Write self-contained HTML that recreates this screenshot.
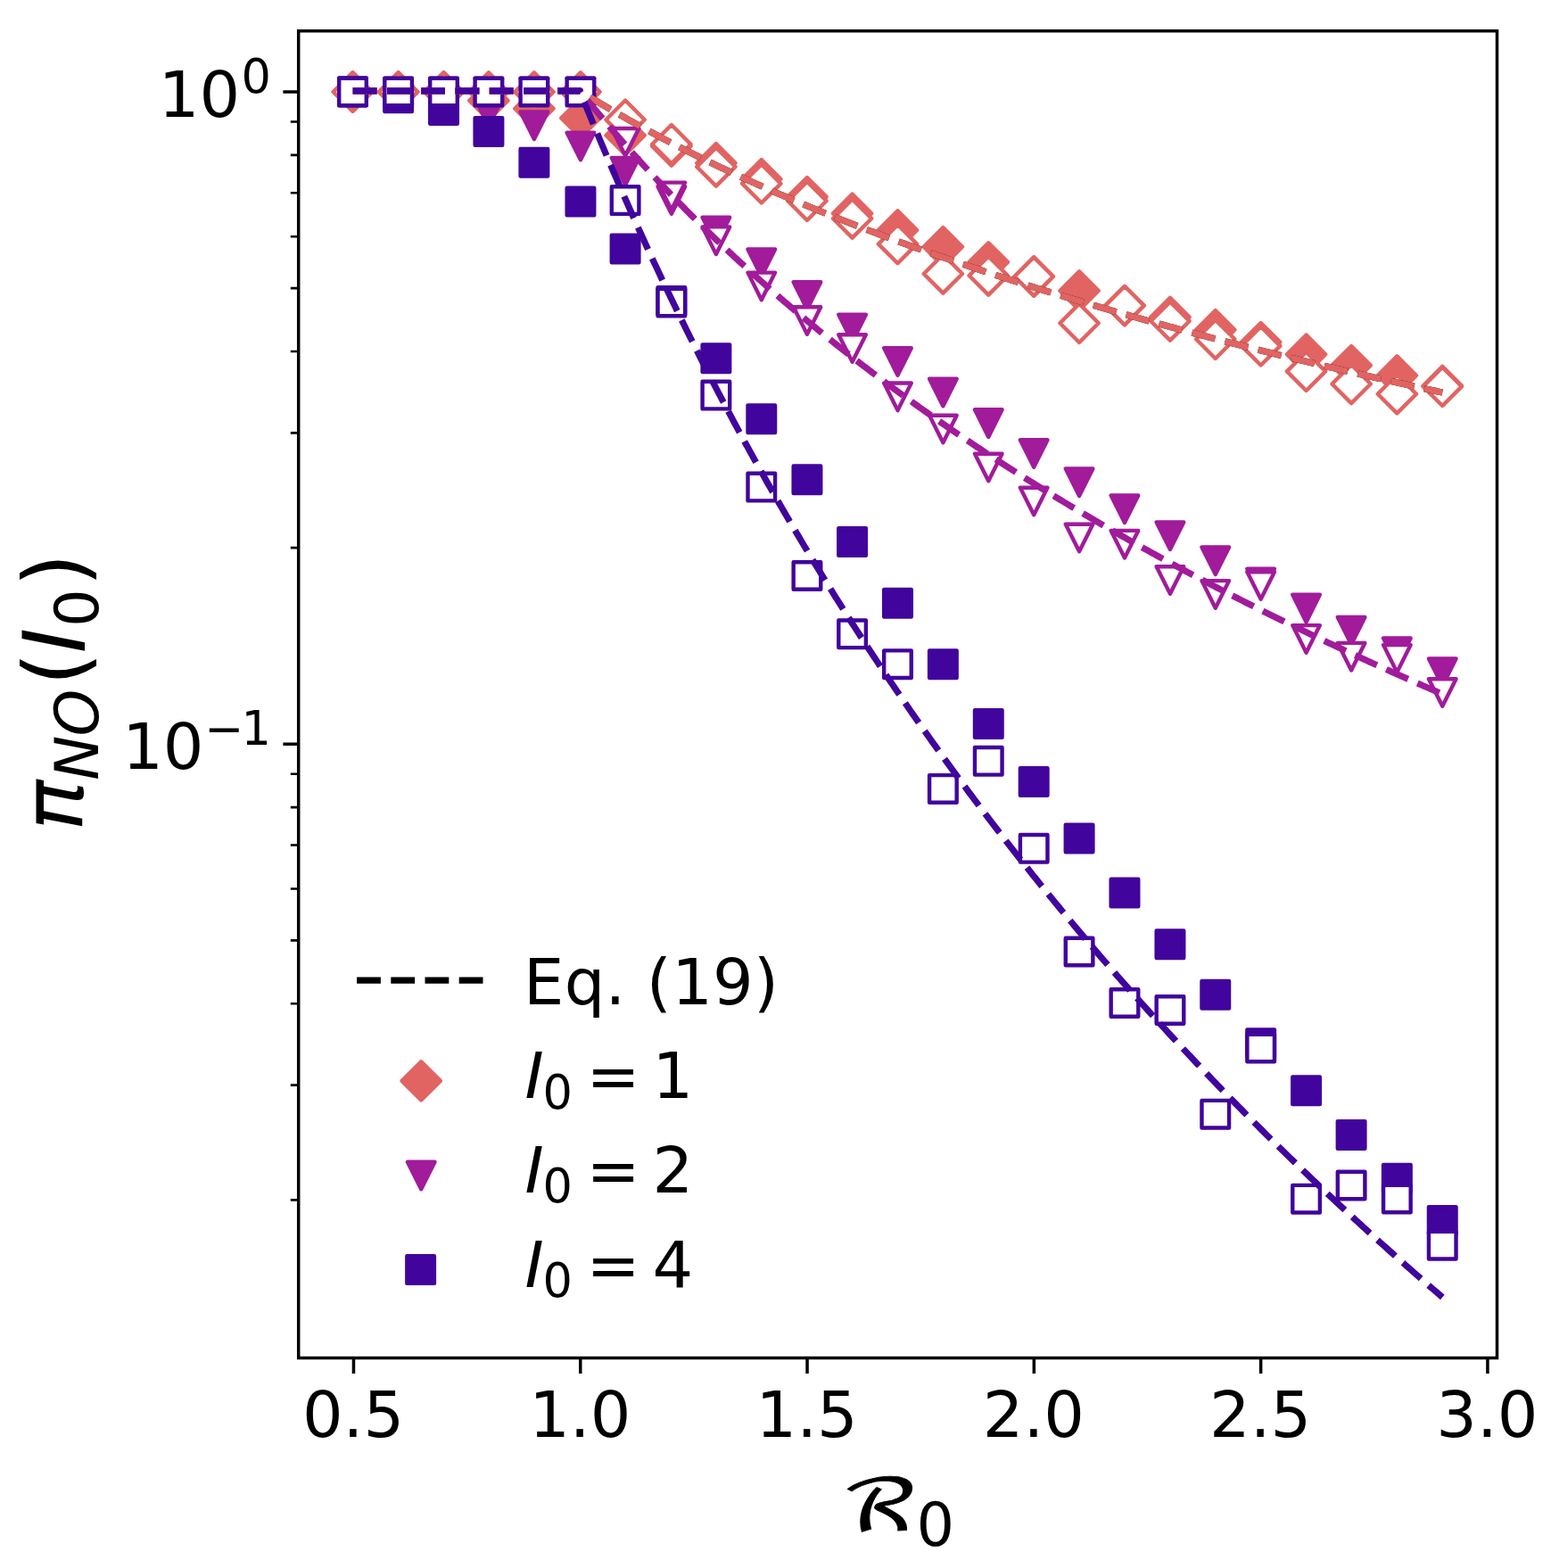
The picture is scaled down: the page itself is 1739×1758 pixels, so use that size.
<!DOCTYPE html>
<html><head><meta charset="utf-8"><style>html,body{margin:0;padding:0;background:#fff;overflow:hidden}svg{display:block}</style></head><body>
<svg width="1739" height="1758" viewBox="0 0 1739 1758"><rect width="1739" height="1758" fill="#fff"/>
<clipPath id="ax"><rect x="335" y="34.7" width="1343.5" height="1487.8"/></clipPath>
<g clip-path="url(#ax)">
<path d="M395.5 81.36L417.14 103L395.5 124.64L373.86 103ZM446.61 81.36L468.24 103L446.61 124.64L424.97 103ZM497.5 81.36L519.14 103L497.5 124.64L475.87 103ZM547.9 91.16L569.54 112.8L547.9 134.44L526.26 112.8ZM598.9 100.06L620.54 121.7L598.9 143.34L577.26 121.7ZM650.95 110.76L672.59 132.4L650.95 154.04L629.31 132.4ZM701.09 130.16L722.73 151.8L701.09 173.44L679.46 151.8ZM752.85 142.36L774.49 164L752.85 185.64L731.21 164ZM802.89 161.06L824.52 182.7L802.89 204.34L781.25 182.7ZM853.78 179.16L875.42 200.8L853.78 222.44L832.15 200.8ZM904.95 198.96L926.59 220.6L904.95 242.24L883.31 220.6ZM955.58 217.56L977.22 239.2L955.58 260.84L933.94 239.2ZM1006.48 236.36L1028.11 258L1006.48 279.64L984.84 258ZM1057.38 255.06L1079.01 276.7L1057.38 298.34L1035.74 276.7ZM1108.27 272.26L1129.91 293.9L1108.27 315.54L1086.64 293.9ZM1159.17 288.36L1180.81 310L1159.17 331.64L1137.53 310ZM1210.07 304.36L1231.7 326L1210.07 347.64L1188.43 326ZM1260.97 320.96L1282.6 342.6L1260.97 364.24L1239.33 342.6ZM1311.95 333.86L1333.59 355.5L1311.95 377.14L1290.31 355.5ZM1362.76 348.06L1384.4 369.7L1362.76 391.34L1341.12 369.7ZM1413.66 361.96L1435.29 383.6L1413.66 405.24L1392.02 383.6ZM1464.56 375.56L1486.19 397.2L1464.56 418.84L1442.92 397.2ZM1515.1 387.96L1536.74 409.6L1515.1 431.24L1493.46 409.6ZM1566.35 399.36L1587.99 421L1566.35 442.64L1544.71 421ZM1617.25 410.86L1638.88 432.5L1617.25 454.14L1595.61 432.5Z" fill="#e16462" stroke="#e16462" stroke-width="4.4" stroke-linejoin="round"/>
<path d="M395.5 81.36L417.14 103L395.5 124.64L373.86 103ZM446.61 81.36L468.24 103L446.61 124.64L424.97 103ZM497.5 81.36L519.14 103L497.5 124.64L475.87 103ZM547.9 81.36L569.54 103L547.9 124.64L526.26 103ZM598.9 81.36L620.54 103L598.9 124.64L577.26 103ZM650.95 81.36L672.59 103L650.95 124.64L629.31 103ZM701.09 112.56L722.73 134.2L701.09 155.84L679.46 134.2ZM752.85 140.06L774.49 161.7L752.85 183.34L731.21 161.7ZM802.89 165.36L824.52 187L802.89 208.64L781.25 187ZM853.78 184.26L875.42 205.9L853.78 227.54L832.15 205.9ZM904.95 203.66L926.59 225.3L904.95 246.94L883.31 225.3ZM955.58 223.36L977.22 245L955.58 266.64L933.94 245ZM1006.48 251.96L1028.11 273.6L1006.48 295.24L984.84 273.6ZM1057.38 285.36L1079.01 307L1057.38 328.64L1035.74 307ZM1108.27 287.36L1129.91 309L1108.27 330.64L1086.64 309ZM1159.17 288.36L1180.81 310L1159.17 331.64L1137.53 310ZM1210.07 340.66L1231.7 362.3L1210.07 383.94L1188.43 362.3ZM1260.97 320.96L1282.6 342.6L1260.97 364.24L1239.33 342.6ZM1311.95 338.36L1333.59 360L1311.95 381.64L1290.31 360ZM1362.76 358.66L1384.4 380.3L1362.76 401.94L1341.12 380.3ZM1413.66 366.26L1435.29 387.9L1413.66 409.54L1392.02 387.9ZM1464.56 394.76L1486.19 416.4L1464.56 438.04L1442.92 416.4ZM1515.1 408.86L1536.74 430.5L1515.1 452.14L1493.46 430.5ZM1566.35 420.06L1587.99 441.7L1566.35 463.34L1544.71 441.7ZM1617.25 411.76L1638.88 433.4L1617.25 455.04L1595.61 433.4Z" fill="#fff" stroke="#e16462" stroke-width="4.4" stroke-linejoin="round"/>
<path d="M380.2 87.7L410.8 87.7L395.5 118.3ZM431.31 90.7L461.91 90.7L446.61 121.3ZM482.2 99.7L512.8 99.7L497.5 130.3ZM532.6 110.7L563.2 110.7L547.9 141.3ZM583.6 125.5L614.2 125.5L598.9 156.1ZM635.65 148.7L666.25 148.7L650.95 179.3ZM685.79 176.9L716.39 176.9L701.09 207.5ZM737.55 209.2L768.15 209.2L752.85 239.8ZM787.59 243.7L818.19 243.7L802.89 274.3ZM838.49 279.4L869.08 279.4L853.78 310ZM889.65 316.2L920.25 316.2L904.95 346.8ZM940.28 352.7L970.88 352.7L955.58 383.3ZM991.18 390.2L1021.78 390.2L1006.48 420.8ZM1042.08 424.7L1072.67 424.7L1057.38 455.3ZM1092.97 459.3L1123.57 459.3L1108.27 489.9ZM1143.87 493.2L1174.47 493.2L1159.17 523.8ZM1194.77 525.5L1225.37 525.5L1210.07 556.1ZM1245.67 555.4L1276.27 555.4L1260.97 586ZM1296.65 585.4L1327.25 585.4L1311.95 616ZM1347.46 613.4L1378.06 613.4L1362.76 644ZM1398.36 637.8L1428.96 637.8L1413.66 668.4ZM1449.26 666.8L1479.86 666.8L1464.56 697.4ZM1499.8 692L1530.4 692L1515.1 722.6ZM1551.05 715.5L1581.65 715.5L1566.35 746.1ZM1601.95 738.4L1632.55 738.4L1617.25 769Z" fill="#a11b9b" stroke="#a11b9b" stroke-width="4.4" stroke-linejoin="round"/>
<path d="M380.2 87.7L410.8 87.7L395.5 118.3ZM431.31 87.7L461.91 87.7L446.61 118.3ZM482.2 87.7L512.8 87.7L497.5 118.3ZM532.6 87.7L563.2 87.7L547.9 118.3ZM583.6 87.7L614.2 87.7L598.9 118.3ZM635.65 87.7L666.25 87.7L650.95 118.3ZM685.79 144L716.39 144L701.09 174.6ZM737.55 204.6L768.15 204.6L752.85 235.2ZM787.59 254.4L818.19 254.4L802.89 285ZM838.49 305.6L869.08 305.6L853.78 336.2ZM889.65 344.2L920.25 344.2L904.95 374.8ZM940.28 375.2L970.88 375.2L955.58 405.8ZM991.18 429.5L1021.78 429.5L1006.48 460.1ZM1042.08 465.7L1072.67 465.7L1057.38 496.3ZM1092.97 508.7L1123.57 508.7L1108.27 539.3ZM1143.87 546.7L1174.47 546.7L1159.17 577.3ZM1194.77 587.7L1225.37 587.7L1210.07 618.3ZM1245.67 594.9L1276.27 594.9L1260.97 625.5ZM1296.65 635.2L1327.25 635.2L1311.95 665.8ZM1347.46 651.1L1378.06 651.1L1362.76 681.7ZM1398.36 641.2L1428.96 641.2L1413.66 671.8ZM1449.26 701.1L1479.86 701.1L1464.56 731.7ZM1499.8 720.9L1530.4 720.9L1515.1 751.5ZM1551.05 723.1L1581.65 723.1L1566.35 753.7ZM1601.95 761.2L1632.55 761.2L1617.25 791.8Z" fill="#fff" stroke="#a11b9b" stroke-width="4.4" stroke-linejoin="round"/>
<path d="M380.2 87.7H410.8V118.3H380.2ZM431.31 94.4H461.91V125H431.31ZM482.2 108.1H512.8V138.7H482.2ZM532.6 132.2H563.2V162.8H532.6ZM583.6 167H614.2V197.6H583.6ZM635.65 210.7H666.25V241.3H635.65ZM685.79 263.6H716.39V294.2H685.79ZM737.55 322.2H768.15V352.8H737.55ZM787.59 386.4H818.19V417H787.59ZM838.49 454.4H869.08V485H838.49ZM889.65 522.5H920.25V553.1H889.65ZM940.28 592.1H970.88V622.7H940.28ZM991.18 661H1021.78V691.6H991.18ZM1042.08 729.4H1072.67V760H1042.08ZM1092.97 796.2H1123.57V826.8H1092.97ZM1143.87 861.2H1174.47V891.8H1143.87ZM1194.77 924.7H1225.37V955.3H1194.77ZM1245.67 985.7H1276.27V1016.3H1245.67ZM1296.65 1043.5H1327.25V1074.1H1296.65ZM1347.46 1100H1378.06V1130.6H1347.46ZM1398.36 1154.4H1428.96V1185H1398.36ZM1449.26 1207.4H1479.86V1238H1449.26ZM1499.8 1257.1H1530.4V1287.7H1499.8ZM1551.05 1305.9H1581.65V1336.5H1551.05ZM1601.95 1353.1H1632.55V1383.7H1601.95Z" fill="#41049d" stroke="#41049d" stroke-width="4.4" stroke-linejoin="round"/>
<path d="M380.2 87.7H410.8V118.3H380.2ZM431.31 87.7H461.91V118.3H431.31ZM482.2 87.7H512.8V118.3H482.2ZM532.6 87.7H563.2V118.3H532.6ZM583.6 87.7H614.2V118.3H583.6ZM635.65 87.7H666.25V118.3H635.65ZM685.79 209.3H716.39V239.9H685.79ZM737.55 323.7H768.15V354.3H737.55ZM787.59 427.8H818.19V458.4H787.59ZM838.49 530.8H869.08V561.4H838.49ZM889.65 630.2H920.25V660.8H889.65ZM940.28 695.5H970.88V726.1H940.28ZM991.18 729.4H1021.78V760H991.18ZM1042.08 869.1H1072.67V899.7H1042.08ZM1092.97 838H1123.57V868.6H1092.97ZM1143.87 936H1174.47V966.6H1143.87ZM1194.77 1051.7H1225.37V1082.3H1194.77ZM1245.67 1109.2H1276.27V1139.8H1245.67ZM1296.65 1117.2H1327.25V1147.8H1296.65ZM1347.46 1233.9H1378.06V1264.5H1347.46ZM1398.36 1159.7H1428.96V1190.3H1398.36ZM1449.26 1328.9H1479.86V1359.5H1449.26ZM1499.8 1313.7H1530.4V1344.3H1499.8ZM1551.05 1328.7H1581.65V1359.3H1551.05ZM1601.95 1380.9H1632.55V1411.5H1601.95Z" fill="#fff" stroke="#41049d" stroke-width="4.4" stroke-linejoin="round"/>
<polyline points="395.71,101.9 398.25,101.9 400.8,101.9 403.34,101.9 405.89,101.9 408.43,101.9 410.98,101.9 413.52,101.9 416.07,101.9 418.61,101.9 421.16,101.9 423.7,101.9 426.25,101.9 428.79,101.9 431.34,101.9 433.88,101.9 436.43,101.9 438.97,101.9 441.52,101.9 444.06,101.9 446.61,101.9 449.15,101.9 451.69,101.9 454.24,101.9 456.78,101.9 459.33,101.9 461.87,101.9 464.42,101.9 466.96,101.9 469.51,101.9 472.05,101.9 474.6,101.9 477.14,101.9 479.69,101.9 482.23,101.9 484.78,101.9 487.32,101.9 489.87,101.9 492.41,101.9 494.96,101.9 497.5,101.9 500.05,101.9 502.59,101.9 505.14,101.9 507.68,101.9 510.23,101.9 512.77,101.9 515.32,101.9 517.86,101.9 520.41,101.9 522.95,101.9 525.5,101.9 528.04,101.9 530.59,101.9 533.13,101.9 535.68,101.9 538.22,101.9 540.77,101.9 543.31,101.9 545.86,101.9 548.4,101.9 550.94,101.9 553.49,101.9 556.03,101.9 558.58,101.9 561.12,101.9 563.67,101.9 566.21,101.9 568.76,101.9 571.3,101.9 573.85,101.9 576.39,101.9 578.94,101.9 581.48,101.9 584.03,101.9 586.57,101.9 589.12,101.9 591.66,101.9 594.21,101.9 596.75,101.9 599.3,101.9 601.84,101.9 604.39,101.9 606.93,101.9 609.48,101.9 612.02,101.9 614.57,101.9 617.11,101.9 619.66,101.9 622.2,101.9 624.75,101.9 627.29,101.9 629.84,101.9 632.38,101.9 634.93,101.9 637.47,101.9 640.02,101.9 642.56,101.9 645.11,101.9 647.65,101.9 650.2,101.9 652.74,103.48 655.28,105.06 657.83,106.63 660.37,108.19 662.92,109.74 665.46,111.29 668.01,112.83 670.55,114.36 673.1,115.88 675.64,117.39 678.19,118.9 680.73,120.4 683.28,121.9 685.82,123.39 688.37,124.87 690.91,126.34 693.46,127.81 696,129.27 698.55,130.72 701.09,132.17 703.64,133.61 706.18,135.04 708.73,136.47 711.27,137.89 713.82,139.31 716.36,140.71 718.91,142.12 721.45,143.51 724,144.9 726.54,146.29 729.09,147.66 731.63,149.03 734.18,150.4 736.72,151.76 739.27,153.12 741.81,154.46 744.36,155.81 746.9,157.14 749.45,158.48 751.99,159.8 754.53,161.12 757.08,162.44 759.62,163.75 762.17,165.05 764.71,166.35 767.26,167.64 769.8,168.93 772.35,170.21 774.89,171.49 777.44,172.77 779.98,174.03 782.53,175.3 785.07,176.55 787.62,177.81 790.16,179.05 792.71,180.3 795.25,181.54 797.8,182.77 800.34,184 802.89,185.22 805.43,186.44 807.98,187.65 810.52,188.86 813.07,190.07 815.61,191.27 818.16,192.47 820.7,193.66 823.25,194.85 825.79,196.03 828.34,197.21 830.88,198.38 833.43,199.55 835.97,200.72 838.52,201.88 841.06,203.03 843.61,204.19 846.15,205.34 848.7,206.48 851.24,207.62 853.78,208.76 856.33,209.89 858.87,211.02 861.42,212.14 863.96,213.26 866.51,214.38 869.05,215.49 871.6,216.6 874.14,217.7 876.69,218.8 879.23,219.9 881.78,220.99 884.32,222.08 886.87,223.17 889.41,224.25 891.96,225.33 894.5,226.4 897.05,227.47 899.59,228.54 902.14,229.61 904.68,230.67 907.23,231.72 909.77,232.78 912.32,233.83 914.86,234.87 917.41,235.92 919.95,236.96 922.5,237.99 925.04,239.02 927.59,240.05 930.13,241.08 932.68,242.1 935.22,243.12 937.77,244.14 940.31,245.15 942.86,246.16 945.4,247.17 947.95,248.17 950.49,249.17 953.04,250.17 955.58,251.16 958.12,252.15 960.67,253.14 963.21,254.13 965.76,255.11 968.3,256.09 970.85,257.06 973.39,258.03 975.94,259 978.48,259.97 981.03,260.94 983.57,261.9 986.12,262.85 988.66,263.81 991.21,264.76 993.75,265.71 996.3,266.66 998.84,267.6 1001.39,268.54 1003.93,269.48 1006.48,270.42 1009.02,271.35 1011.57,272.28 1014.11,273.21 1016.66,274.13 1019.2,275.05 1021.75,275.97 1024.29,276.89 1026.84,277.8 1029.38,278.71 1031.93,279.62 1034.47,280.53 1037.02,281.43 1039.56,282.33 1042.11,283.23 1044.65,284.13 1047.2,285.02 1049.74,285.91 1052.29,286.8 1054.83,287.68 1057.38,288.57 1059.92,289.45 1062.46,290.33 1065.01,291.2 1067.55,292.08 1070.1,292.95 1072.64,293.82 1075.19,294.68 1077.73,295.55 1080.28,296.41 1082.82,297.27 1085.37,298.13 1087.91,298.98 1090.46,299.83 1093,300.68 1095.55,301.53 1098.09,302.38 1100.64,303.22 1103.18,304.06 1105.73,304.9 1108.27,305.74 1110.82,306.57 1113.36,307.41 1115.91,308.24 1118.45,309.06 1121,309.89 1123.54,310.71 1126.09,311.54 1128.63,312.36 1131.18,313.17 1133.72,313.99 1136.27,314.8 1138.81,315.61 1141.36,316.42 1143.9,317.23 1146.45,318.03 1148.99,318.84 1151.54,319.64 1154.08,320.44 1156.63,321.23 1159.17,322.03 1161.71,322.82 1164.26,323.61 1166.8,324.4 1169.35,325.19 1171.89,325.97 1174.44,326.76 1176.98,327.54 1179.53,328.32 1182.07,329.09 1184.62,329.87 1187.16,330.64 1189.71,331.42 1192.25,332.19 1194.8,332.95 1197.34,333.72 1199.89,334.48 1202.43,335.25 1204.98,336.01 1207.52,336.77 1210.07,337.52 1212.61,338.28 1215.16,339.03 1217.7,339.78 1220.25,340.53 1222.79,341.28 1225.34,342.03 1227.88,342.77 1230.43,343.52 1232.97,344.26 1235.52,345 1238.06,345.73 1240.61,346.47 1243.15,347.2 1245.7,347.94 1248.24,348.67 1250.79,349.4 1253.33,350.12 1255.88,350.85 1258.42,351.57 1260.97,352.3 1263.51,353.02 1266.05,353.74 1268.6,354.45 1271.14,355.17 1273.69,355.89 1276.23,356.6 1278.78,357.31 1281.32,358.02 1283.87,358.73 1286.41,359.43 1288.96,360.14 1291.5,360.84 1294.05,361.54 1296.59,362.24 1299.14,362.94 1301.68,363.64 1304.23,364.34 1306.77,365.03 1309.32,365.72 1311.86,366.41 1314.41,367.1 1316.95,367.79 1319.5,368.48 1322.04,369.16 1324.59,369.85 1327.13,370.53 1329.68,371.21 1332.22,371.89 1334.77,372.57 1337.31,373.24 1339.86,373.92 1342.4,374.59 1344.95,375.26 1347.49,375.93 1350.04,376.6 1352.58,377.27 1355.13,377.94 1357.67,378.6 1360.22,379.27 1362.76,379.93 1365.3,380.59 1367.85,381.25 1370.39,381.91 1372.94,382.56 1375.48,383.22 1378.03,383.87 1380.57,384.53 1383.12,385.18 1385.66,385.83 1388.21,386.48 1390.75,387.13 1393.3,387.77 1395.84,388.42 1398.39,389.06 1400.93,389.7 1403.48,390.34 1406.02,390.98 1408.57,391.62 1411.11,392.26 1413.66,392.89 1416.2,393.53 1418.75,394.16 1421.29,394.79 1423.84,395.42 1426.38,396.05 1428.93,396.68 1431.47,397.31 1434.02,397.93 1436.56,398.56 1439.11,399.18 1441.65,399.8 1444.2,400.43 1446.74,401.05 1449.29,401.66 1451.83,402.28 1454.38,402.9 1456.92,403.51 1459.47,404.13 1462.01,404.74 1464.56,405.35 1467.1,405.96 1469.64,406.57 1472.19,407.18 1474.73,407.78 1477.28,408.39 1479.82,408.99 1482.37,409.6 1484.91,410.2 1487.46,410.8 1490,411.4 1492.55,412 1495.09,412.59 1497.64,413.19 1500.18,413.79 1502.73,414.38 1505.27,414.97 1507.82,415.57 1510.36,416.16 1512.91,416.75 1515.45,417.33 1518,417.92 1520.54,418.51 1523.09,419.09 1525.63,419.68 1528.18,420.26 1530.72,420.84 1533.27,421.43 1535.81,422.01 1538.36,422.58 1540.9,423.16 1543.45,423.74 1545.99,424.31 1548.54,424.89 1551.08,425.46 1553.63,426.04 1556.17,426.61 1558.72,427.18 1561.26,427.75 1563.81,428.32 1566.35,428.88 1568.89,429.45 1571.44,430.02 1573.98,430.58 1576.53,431.14 1579.07,431.71 1581.62,432.27 1584.16,432.83 1586.71,433.39 1589.25,433.95 1591.8,434.51 1594.34,435.06 1596.89,435.62 1599.43,436.17 1601.98,436.73 1604.52,437.28 1607.07,437.83 1609.61,438.38 1612.16,438.93 1614.7,439.48 1617.25,440.03" fill="none" stroke="#000" stroke-width="7.2" stroke-dasharray="26.77 11.5" stroke-linejoin="round" stroke-linecap="butt"/>
<polyline points="395.71,101.9 398.25,101.9 400.8,101.9 403.34,101.9 405.89,101.9 408.43,101.9 410.98,101.9 413.52,101.9 416.07,101.9 418.61,101.9 421.16,101.9 423.7,101.9 426.25,101.9 428.79,101.9 431.34,101.9 433.88,101.9 436.43,101.9 438.97,101.9 441.52,101.9 444.06,101.9 446.61,101.9 449.15,101.9 451.69,101.9 454.24,101.9 456.78,101.9 459.33,101.9 461.87,101.9 464.42,101.9 466.96,101.9 469.51,101.9 472.05,101.9 474.6,101.9 477.14,101.9 479.69,101.9 482.23,101.9 484.78,101.9 487.32,101.9 489.87,101.9 492.41,101.9 494.96,101.9 497.5,101.9 500.05,101.9 502.59,101.9 505.14,101.9 507.68,101.9 510.23,101.9 512.77,101.9 515.32,101.9 517.86,101.9 520.41,101.9 522.95,101.9 525.5,101.9 528.04,101.9 530.59,101.9 533.13,101.9 535.68,101.9 538.22,101.9 540.77,101.9 543.31,101.9 545.86,101.9 548.4,101.9 550.94,101.9 553.49,101.9 556.03,101.9 558.58,101.9 561.12,101.9 563.67,101.9 566.21,101.9 568.76,101.9 571.3,101.9 573.85,101.9 576.39,101.9 578.94,101.9 581.48,101.9 584.03,101.9 586.57,101.9 589.12,101.9 591.66,101.9 594.21,101.9 596.75,101.9 599.3,101.9 601.84,101.9 604.39,101.9 606.93,101.9 609.48,101.9 612.02,101.9 614.57,101.9 617.11,101.9 619.66,101.9 622.2,101.9 624.75,101.9 627.29,101.9 629.84,101.9 632.38,101.9 634.93,101.9 637.47,101.9 640.02,101.9 642.56,101.9 645.11,101.9 647.65,101.9 650.2,101.9 652.74,103.48 655.28,105.06 657.83,106.63 660.37,108.19 662.92,109.74 665.46,111.29 668.01,112.83 670.55,114.36 673.1,115.88 675.64,117.39 678.19,118.9 680.73,120.4 683.28,121.9 685.82,123.39 688.37,124.87 690.91,126.34 693.46,127.81 696,129.27 698.55,130.72 701.09,132.17 703.64,133.61 706.18,135.04 708.73,136.47 711.27,137.89 713.82,139.31 716.36,140.71 718.91,142.12 721.45,143.51 724,144.9 726.54,146.29 729.09,147.66 731.63,149.03 734.18,150.4 736.72,151.76 739.27,153.12 741.81,154.46 744.36,155.81 746.9,157.14 749.45,158.48 751.99,159.8 754.53,161.12 757.08,162.44 759.62,163.75 762.17,165.05 764.71,166.35 767.26,167.64 769.8,168.93 772.35,170.21 774.89,171.49 777.44,172.77 779.98,174.03 782.53,175.3 785.07,176.55 787.62,177.81 790.16,179.05 792.71,180.3 795.25,181.54 797.8,182.77 800.34,184 802.89,185.22 805.43,186.44 807.98,187.65 810.52,188.86 813.07,190.07 815.61,191.27 818.16,192.47 820.7,193.66 823.25,194.85 825.79,196.03 828.34,197.21 830.88,198.38 833.43,199.55 835.97,200.72 838.52,201.88 841.06,203.03 843.61,204.19 846.15,205.34 848.7,206.48 851.24,207.62 853.78,208.76 856.33,209.89 858.87,211.02 861.42,212.14 863.96,213.26 866.51,214.38 869.05,215.49 871.6,216.6 874.14,217.7 876.69,218.8 879.23,219.9 881.78,220.99 884.32,222.08 886.87,223.17 889.41,224.25 891.96,225.33 894.5,226.4 897.05,227.47 899.59,228.54 902.14,229.61 904.68,230.67 907.23,231.72 909.77,232.78 912.32,233.83 914.86,234.87 917.41,235.92 919.95,236.96 922.5,237.99 925.04,239.02 927.59,240.05 930.13,241.08 932.68,242.1 935.22,243.12 937.77,244.14 940.31,245.15 942.86,246.16 945.4,247.17 947.95,248.17 950.49,249.17 953.04,250.17 955.58,251.16 958.12,252.15 960.67,253.14 963.21,254.13 965.76,255.11 968.3,256.09 970.85,257.06 973.39,258.03 975.94,259 978.48,259.97 981.03,260.94 983.57,261.9 986.12,262.85 988.66,263.81 991.21,264.76 993.75,265.71 996.3,266.66 998.84,267.6 1001.39,268.54 1003.93,269.48 1006.48,270.42 1009.02,271.35 1011.57,272.28 1014.11,273.21 1016.66,274.13 1019.2,275.05 1021.75,275.97 1024.29,276.89 1026.84,277.8 1029.38,278.71 1031.93,279.62 1034.47,280.53 1037.02,281.43 1039.56,282.33 1042.11,283.23 1044.65,284.13 1047.2,285.02 1049.74,285.91 1052.29,286.8 1054.83,287.68 1057.38,288.57 1059.92,289.45 1062.46,290.33 1065.01,291.2 1067.55,292.08 1070.1,292.95 1072.64,293.82 1075.19,294.68 1077.73,295.55 1080.28,296.41 1082.82,297.27 1085.37,298.13 1087.91,298.98 1090.46,299.83 1093,300.68 1095.55,301.53 1098.09,302.38 1100.64,303.22 1103.18,304.06 1105.73,304.9 1108.27,305.74 1110.82,306.57 1113.36,307.41 1115.91,308.24 1118.45,309.06 1121,309.89 1123.54,310.71 1126.09,311.54 1128.63,312.36 1131.18,313.17 1133.72,313.99 1136.27,314.8 1138.81,315.61 1141.36,316.42 1143.9,317.23 1146.45,318.03 1148.99,318.84 1151.54,319.64 1154.08,320.44 1156.63,321.23 1159.17,322.03 1161.71,322.82 1164.26,323.61 1166.8,324.4 1169.35,325.19 1171.89,325.97 1174.44,326.76 1176.98,327.54 1179.53,328.32 1182.07,329.09 1184.62,329.87 1187.16,330.64 1189.71,331.42 1192.25,332.19 1194.8,332.95 1197.34,333.72 1199.89,334.48 1202.43,335.25 1204.98,336.01 1207.52,336.77 1210.07,337.52 1212.61,338.28 1215.16,339.03 1217.7,339.78 1220.25,340.53 1222.79,341.28 1225.34,342.03 1227.88,342.77 1230.43,343.52 1232.97,344.26 1235.52,345 1238.06,345.73 1240.61,346.47 1243.15,347.2 1245.7,347.94 1248.24,348.67 1250.79,349.4 1253.33,350.12 1255.88,350.85 1258.42,351.57 1260.97,352.3 1263.51,353.02 1266.05,353.74 1268.6,354.45 1271.14,355.17 1273.69,355.89 1276.23,356.6 1278.78,357.31 1281.32,358.02 1283.87,358.73 1286.41,359.43 1288.96,360.14 1291.5,360.84 1294.05,361.54 1296.59,362.24 1299.14,362.94 1301.68,363.64 1304.23,364.34 1306.77,365.03 1309.32,365.72 1311.86,366.41 1314.41,367.1 1316.95,367.79 1319.5,368.48 1322.04,369.16 1324.59,369.85 1327.13,370.53 1329.68,371.21 1332.22,371.89 1334.77,372.57 1337.31,373.24 1339.86,373.92 1342.4,374.59 1344.95,375.26 1347.49,375.93 1350.04,376.6 1352.58,377.27 1355.13,377.94 1357.67,378.6 1360.22,379.27 1362.76,379.93 1365.3,380.59 1367.85,381.25 1370.39,381.91 1372.94,382.56 1375.48,383.22 1378.03,383.87 1380.57,384.53 1383.12,385.18 1385.66,385.83 1388.21,386.48 1390.75,387.13 1393.3,387.77 1395.84,388.42 1398.39,389.06 1400.93,389.7 1403.48,390.34 1406.02,390.98 1408.57,391.62 1411.11,392.26 1413.66,392.89 1416.2,393.53 1418.75,394.16 1421.29,394.79 1423.84,395.42 1426.38,396.05 1428.93,396.68 1431.47,397.31 1434.02,397.93 1436.56,398.56 1439.11,399.18 1441.65,399.8 1444.2,400.43 1446.74,401.05 1449.29,401.66 1451.83,402.28 1454.38,402.9 1456.92,403.51 1459.47,404.13 1462.01,404.74 1464.56,405.35 1467.1,405.96 1469.64,406.57 1472.19,407.18 1474.73,407.78 1477.28,408.39 1479.82,408.99 1482.37,409.6 1484.91,410.2 1487.46,410.8 1490,411.4 1492.55,412 1495.09,412.59 1497.64,413.19 1500.18,413.79 1502.73,414.38 1505.27,414.97 1507.82,415.57 1510.36,416.16 1512.91,416.75 1515.45,417.33 1518,417.92 1520.54,418.51 1523.09,419.09 1525.63,419.68 1528.18,420.26 1530.72,420.84 1533.27,421.43 1535.81,422.01 1538.36,422.58 1540.9,423.16 1543.45,423.74 1545.99,424.31 1548.54,424.89 1551.08,425.46 1553.63,426.04 1556.17,426.61 1558.72,427.18 1561.26,427.75 1563.81,428.32 1566.35,428.88 1568.89,429.45 1571.44,430.02 1573.98,430.58 1576.53,431.14 1579.07,431.71 1581.62,432.27 1584.16,432.83 1586.71,433.39 1589.25,433.95 1591.8,434.51 1594.34,435.06 1596.89,435.62 1599.43,436.17 1601.98,436.73 1604.52,437.28 1607.07,437.83 1609.61,438.38 1612.16,438.93 1614.7,439.48 1617.25,440.03" fill="none" stroke="#e16462" stroke-width="7.2" stroke-dasharray="26.77 11.5" stroke-linejoin="round" stroke-linecap="butt"/>
<polyline points="395.71,101.9 398.25,101.9 400.8,101.9 403.34,101.9 405.89,101.9 408.43,101.9 410.98,101.9 413.52,101.9 416.07,101.9 418.61,101.9 421.16,101.9 423.7,101.9 426.25,101.9 428.79,101.9 431.34,101.9 433.88,101.9 436.43,101.9 438.97,101.9 441.52,101.9 444.06,101.9 446.61,101.9 449.15,101.9 451.69,101.9 454.24,101.9 456.78,101.9 459.33,101.9 461.87,101.9 464.42,101.9 466.96,101.9 469.51,101.9 472.05,101.9 474.6,101.9 477.14,101.9 479.69,101.9 482.23,101.9 484.78,101.9 487.32,101.9 489.87,101.9 492.41,101.9 494.96,101.9 497.5,101.9 500.05,101.9 502.59,101.9 505.14,101.9 507.68,101.9 510.23,101.9 512.77,101.9 515.32,101.9 517.86,101.9 520.41,101.9 522.95,101.9 525.5,101.9 528.04,101.9 530.59,101.9 533.13,101.9 535.68,101.9 538.22,101.9 540.77,101.9 543.31,101.9 545.86,101.9 548.4,101.9 550.94,101.9 553.49,101.9 556.03,101.9 558.58,101.9 561.12,101.9 563.67,101.9 566.21,101.9 568.76,101.9 571.3,101.9 573.85,101.9 576.39,101.9 578.94,101.9 581.48,101.9 584.03,101.9 586.57,101.9 589.12,101.9 591.66,101.9 594.21,101.9 596.75,101.9 599.3,101.9 601.84,101.9 604.39,101.9 606.93,101.9 609.48,101.9 612.02,101.9 614.57,101.9 617.11,101.9 619.66,101.9 622.2,101.9 624.75,101.9 627.29,101.9 629.84,101.9 632.38,101.9 634.93,101.9 637.47,101.9 640.02,101.9 642.56,101.9 645.11,101.9 647.65,101.9 650.2,101.9 652.74,105.07 655.28,108.22 657.83,111.36 660.37,114.48 662.92,117.58 665.46,120.67 668.01,123.75 670.55,126.81 673.1,129.86 675.64,132.89 678.19,135.91 680.73,138.91 683.28,141.9 685.82,144.87 688.37,147.83 690.91,150.78 693.46,153.72 696,156.64 698.55,159.54 701.09,162.44 703.64,165.32 706.18,168.18 708.73,171.04 711.27,173.88 713.82,176.71 716.36,179.53 718.91,182.33 721.45,185.12 724,187.9 726.54,190.67 729.09,193.43 731.63,196.17 734.18,198.9 736.72,201.62 739.27,204.33 741.81,207.03 744.36,209.71 746.9,212.39 749.45,215.05 751.99,217.7 754.53,220.34 757.08,222.97 759.62,225.59 762.17,228.2 764.71,230.8 767.26,233.39 769.8,235.96 772.35,238.53 774.89,241.09 777.44,243.63 779.98,246.17 782.53,248.69 785.07,251.21 787.62,253.71 790.16,256.21 792.71,258.69 795.25,261.17 797.8,263.64 800.34,266.09 802.89,268.54 805.43,270.98 807.98,273.41 810.52,275.83 813.07,278.24 815.61,280.64 818.16,283.03 820.7,285.42 823.25,287.79 825.79,290.16 828.34,292.51 830.88,294.86 833.43,297.2 835.97,299.53 838.52,301.85 841.06,304.17 843.61,306.47 846.15,308.77 848.7,311.06 851.24,313.34 853.78,315.61 856.33,317.88 858.87,320.13 861.42,322.38 863.96,324.62 866.51,326.85 869.05,329.08 871.6,331.3 874.14,333.51 876.69,335.71 879.23,337.9 881.78,340.09 884.32,342.27 886.87,344.44 889.41,346.6 891.96,348.76 894.5,350.91 897.05,353.05 899.59,355.18 902.14,357.31 904.68,359.43 907.23,361.55 909.77,363.65 912.32,365.75 914.86,367.85 917.41,369.93 919.95,372.01 922.5,374.08 925.04,376.15 927.59,378.21 930.13,380.26 932.68,382.31 935.22,384.34 937.77,386.38 940.31,388.4 942.86,390.42 945.4,392.44 947.95,394.44 950.49,396.44 953.04,398.44 955.58,400.43 958.12,402.41 960.67,404.38 963.21,406.35 965.76,408.32 968.3,410.27 970.85,412.22 973.39,414.17 975.94,416.11 978.48,418.04 981.03,419.97 983.57,421.89 986.12,423.81 988.66,425.72 991.21,427.62 993.75,429.52 996.3,431.41 998.84,433.3 1001.39,435.18 1003.93,437.06 1006.48,438.93 1009.02,440.8 1011.57,442.66 1014.11,444.51 1016.66,446.36 1019.2,448.2 1021.75,450.04 1024.29,451.88 1026.84,453.7 1029.38,455.53 1031.93,457.34 1034.47,459.16 1037.02,460.96 1039.56,462.76 1042.11,464.56 1044.65,466.35 1047.2,468.14 1049.74,469.92 1052.29,471.7 1054.83,473.47 1057.38,475.24 1059.92,477 1062.46,478.75 1065.01,480.51 1067.55,482.25 1070.1,484 1072.64,485.73 1075.19,487.47 1077.73,489.2 1080.28,490.92 1082.82,492.64 1085.37,494.35 1087.91,496.06 1090.46,497.77 1093,499.47 1095.55,501.16 1098.09,502.86 1100.64,504.54 1103.18,506.23 1105.73,507.9 1108.27,509.58 1110.82,511.25 1113.36,512.91 1115.91,514.57 1118.45,516.23 1121,517.88 1123.54,519.53 1126.09,521.17 1128.63,522.81 1131.18,524.44 1133.72,526.08 1136.27,527.7 1138.81,529.32 1141.36,530.94 1143.9,532.56 1146.45,534.17 1148.99,535.77 1151.54,537.37 1154.08,538.97 1156.63,540.57 1159.17,542.16 1161.71,543.74 1164.26,545.32 1166.8,546.9 1169.35,548.48 1171.89,550.05 1174.44,551.61 1176.98,553.18 1179.53,554.73 1182.07,556.29 1184.62,557.84 1187.16,559.39 1189.71,560.93 1192.25,562.47 1194.8,564.01 1197.34,565.54 1199.89,567.07 1202.43,568.59 1204.98,570.11 1207.52,571.63 1210.07,573.15 1212.61,574.66 1215.16,576.16 1217.7,577.67 1220.25,579.17 1222.79,580.66 1225.34,582.16 1227.88,583.64 1230.43,585.13 1232.97,586.61 1235.52,588.09 1238.06,589.57 1240.61,591.04 1243.15,592.51 1245.7,593.97 1248.24,595.43 1250.79,596.89 1253.33,598.35 1255.88,599.8 1258.42,601.25 1260.97,602.69 1263.51,604.14 1266.05,605.57 1268.6,607.01 1271.14,608.44 1273.69,609.87 1276.23,611.3 1278.78,612.72 1281.32,614.14 1283.87,615.55 1286.41,616.97 1288.96,618.38 1291.5,619.78 1294.05,621.19 1296.59,622.59 1299.14,623.99 1301.68,625.38 1304.23,626.77 1306.77,628.16 1309.32,629.54 1311.86,630.93 1314.41,632.31 1316.95,633.68 1319.5,635.06 1322.04,636.43 1324.59,637.79 1327.13,639.16 1329.68,640.52 1332.22,641.88 1334.77,643.23 1337.31,644.59 1339.86,645.94 1342.4,647.28 1344.95,648.63 1347.49,649.97 1350.04,651.31 1352.58,652.64 1355.13,653.98 1357.67,655.31 1360.22,656.63 1362.76,657.96 1365.3,659.28 1367.85,660.6 1370.39,661.92 1372.94,663.23 1375.48,664.54 1378.03,665.85 1380.57,667.15 1383.12,668.46 1385.66,669.76 1388.21,671.06 1390.75,672.35 1393.3,673.64 1395.84,674.93 1398.39,676.22 1400.93,677.5 1403.48,678.79 1406.02,680.06 1408.57,681.34 1411.11,682.62 1413.66,683.89 1416.2,685.16 1418.75,686.42 1421.29,687.69 1423.84,688.95 1426.38,690.21 1428.93,691.46 1431.47,692.72 1434.02,693.97 1436.56,695.22 1439.11,696.47 1441.65,697.71 1444.2,698.95 1446.74,700.19 1449.29,701.43 1451.83,702.66 1454.38,703.89 1456.92,705.12 1459.47,706.35 1462.01,707.58 1464.56,708.8 1467.1,710.02 1469.64,711.24 1472.19,712.45 1474.73,713.67 1477.28,714.88 1479.82,716.09 1482.37,717.29 1484.91,718.5 1487.46,719.7 1490,720.9 1492.55,722.09 1495.09,723.29 1497.64,724.48 1500.18,725.67 1502.73,726.86 1505.27,728.05 1507.82,729.23 1510.36,730.41 1512.91,731.59 1515.45,732.77 1518,733.94 1520.54,735.12 1523.09,736.29 1525.63,737.46 1528.18,738.62 1530.72,739.79 1533.27,740.95 1535.81,742.11 1538.36,743.27 1540.9,744.42 1543.45,745.58 1545.99,746.73 1548.54,747.88 1551.08,749.03 1553.63,750.17 1556.17,751.32 1558.72,752.46 1561.26,753.6 1563.81,754.73 1566.35,755.87 1568.89,757 1571.44,758.13 1573.98,759.26 1576.53,760.39 1579.07,761.51 1581.62,762.64 1584.16,763.76 1586.71,764.88 1589.25,766 1591.8,767.11 1594.34,768.22 1596.89,769.34 1599.43,770.44 1601.98,771.55 1604.52,772.66 1607.07,773.76 1609.61,774.86 1612.16,775.96 1614.7,777.06 1617.25,778.16" fill="none" stroke="#a11b9b" stroke-width="7.2" stroke-dasharray="26.77 11.5" stroke-linejoin="round" stroke-linecap="butt"/>
<polyline points="395.71,101.9 398.25,101.9 400.8,101.9 403.34,101.9 405.89,101.9 408.43,101.9 410.98,101.9 413.52,101.9 416.07,101.9 418.61,101.9 421.16,101.9 423.7,101.9 426.25,101.9 428.79,101.9 431.34,101.9 433.88,101.9 436.43,101.9 438.97,101.9 441.52,101.9 444.06,101.9 446.61,101.9 449.15,101.9 451.69,101.9 454.24,101.9 456.78,101.9 459.33,101.9 461.87,101.9 464.42,101.9 466.96,101.9 469.51,101.9 472.05,101.9 474.6,101.9 477.14,101.9 479.69,101.9 482.23,101.9 484.78,101.9 487.32,101.9 489.87,101.9 492.41,101.9 494.96,101.9 497.5,101.9 500.05,101.9 502.59,101.9 505.14,101.9 507.68,101.9 510.23,101.9 512.77,101.9 515.32,101.9 517.86,101.9 520.41,101.9 522.95,101.9 525.5,101.9 528.04,101.9 530.59,101.9 533.13,101.9 535.68,101.9 538.22,101.9 540.77,101.9 543.31,101.9 545.86,101.9 548.4,101.9 550.94,101.9 553.49,101.9 556.03,101.9 558.58,101.9 561.12,101.9 563.67,101.9 566.21,101.9 568.76,101.9 571.3,101.9 573.85,101.9 576.39,101.9 578.94,101.9 581.48,101.9 584.03,101.9 586.57,101.9 589.12,101.9 591.66,101.9 594.21,101.9 596.75,101.9 599.3,101.9 601.84,101.9 604.39,101.9 606.93,101.9 609.48,101.9 612.02,101.9 614.57,101.9 617.11,101.9 619.66,101.9 622.2,101.9 624.75,101.9 627.29,101.9 629.84,101.9 632.38,101.9 634.93,101.9 637.47,101.9 640.02,101.9 642.56,101.9 645.11,101.9 647.65,101.9 650.2,101.9 652.74,108.24 655.28,114.54 657.83,120.81 660.37,127.06 662.92,133.27 665.46,139.45 668.01,145.6 670.55,151.72 673.1,157.82 675.64,163.88 678.19,169.91 680.73,175.92 683.28,181.9 685.82,187.85 688.37,193.77 690.91,199.66 693.46,205.53 696,211.37 698.55,217.19 701.09,222.97 703.64,228.73 706.18,234.47 708.73,240.18 711.27,245.86 713.82,251.52 716.36,257.15 718.91,262.76 721.45,268.35 724,273.91 726.54,279.44 729.09,284.95 731.63,290.44 734.18,295.9 736.72,301.34 739.27,306.76 741.81,312.15 744.36,317.53 746.9,322.87 749.45,328.2 751.99,333.51 754.53,338.79 757.08,344.05 759.62,349.29 762.17,354.5 764.71,359.7 767.26,364.87 769.8,370.03 772.35,375.16 774.89,380.27 777.44,385.36 779.98,390.43 782.53,395.48 785.07,400.51 787.62,405.53 790.16,410.52 792.71,415.49 795.25,420.44 797.8,425.37 800.34,430.29 802.89,435.18 805.43,440.06 807.98,444.92 810.52,449.76 813.07,454.58 815.61,459.38 818.16,464.17 820.7,468.93 823.25,473.68 825.79,478.41 828.34,483.13 830.88,487.82 833.43,492.5 835.97,497.16 838.52,501.81 841.06,506.44 843.61,511.05 846.15,515.64 848.7,520.22 851.24,524.78 853.78,529.32 856.33,533.85 858.87,538.37 861.42,542.86 863.96,547.34 866.51,551.81 869.05,556.26 871.6,560.69 874.14,565.11 876.69,569.51 879.23,573.9 881.78,578.27 884.32,582.63 886.87,586.98 889.41,591.3 891.96,595.62 894.5,599.92 897.05,604.2 899.59,608.47 902.14,612.73 904.68,616.97 907.23,621.19 909.77,625.41 912.32,629.61 914.86,633.79 917.41,637.96 919.95,642.12 922.5,646.27 925.04,650.4 927.59,654.52 930.13,658.62 932.68,662.71 935.22,666.79 937.77,670.85 940.31,674.91 942.86,678.95 945.4,682.97 947.95,686.99 950.49,690.99 953.04,694.98 955.58,698.95 958.12,702.91 960.67,706.87 963.21,710.8 965.76,714.73 968.3,718.65 970.85,722.55 973.39,726.44 975.94,730.32 978.48,734.19 981.03,738.04 983.57,741.88 986.12,745.72 988.66,749.54 991.21,753.35 993.75,757.14 996.3,760.93 998.84,764.7 1001.39,768.47 1003.93,772.22 1006.48,775.96 1009.02,779.69 1011.57,783.41 1014.11,787.12 1016.66,790.82 1019.2,794.51 1021.75,798.18 1024.29,801.85 1026.84,805.51 1029.38,809.15 1031.93,812.79 1034.47,816.41 1037.02,820.02 1039.56,823.63 1042.11,827.22 1044.65,830.81 1047.2,834.38 1049.74,837.94 1052.29,841.5 1054.83,845.04 1057.38,848.57 1059.92,852.1 1062.46,855.61 1065.01,859.11 1067.55,862.61 1070.1,866.09 1072.64,869.57 1075.19,873.04 1077.73,876.49 1080.28,879.94 1082.82,883.38 1085.37,886.81 1087.91,890.23 1090.46,893.64 1093,897.04 1095.55,900.43 1098.09,903.81 1100.64,907.19 1103.18,910.55 1105.73,913.91 1108.27,917.25 1110.82,920.59 1113.36,923.92 1115.91,927.24 1118.45,930.56 1121,933.86 1123.54,937.16 1126.09,940.44 1128.63,943.72 1131.18,946.99 1133.72,950.25 1136.27,953.5 1138.81,956.75 1141.36,959.99 1143.9,963.21 1146.45,966.43 1148.99,969.65 1151.54,972.85 1154.08,976.05 1156.63,979.23 1159.17,982.41 1161.71,985.58 1164.26,988.75 1166.8,991.9 1169.35,995.05 1171.89,998.19 1174.44,1001.33 1176.98,1004.45 1179.53,1007.57 1182.07,1010.68 1184.62,1013.78 1187.16,1016.87 1189.71,1019.96 1192.25,1023.04 1194.8,1026.11 1197.34,1029.18 1199.89,1032.24 1202.43,1035.29 1204.98,1038.33 1207.52,1041.36 1210.07,1044.39 1212.61,1047.41 1215.16,1050.43 1217.7,1053.43 1220.25,1056.43 1222.79,1059.42 1225.34,1062.41 1227.88,1065.39 1230.43,1068.36 1232.97,1071.32 1235.52,1074.28 1238.06,1077.23 1240.61,1080.18 1243.15,1083.11 1245.7,1086.04 1248.24,1088.97 1250.79,1091.89 1253.33,1094.8 1255.88,1097.7 1258.42,1100.6 1260.97,1103.49 1263.51,1106.37 1266.05,1109.25 1268.6,1112.12 1271.14,1114.98 1273.69,1117.84 1276.23,1120.69 1278.78,1123.54 1281.32,1126.38 1283.87,1129.21 1286.41,1132.03 1288.96,1134.85 1291.5,1137.67 1294.05,1140.47 1296.59,1143.28 1299.14,1146.07 1301.68,1148.86 1304.23,1151.64 1306.77,1154.42 1309.32,1157.19 1311.86,1159.95 1314.41,1162.71 1316.95,1165.47 1319.5,1168.21 1322.04,1170.95 1324.59,1173.69 1327.13,1176.42 1329.68,1179.14 1332.22,1181.86 1334.77,1184.57 1337.31,1187.27 1339.86,1189.97 1342.4,1192.67 1344.95,1195.36 1347.49,1198.04 1350.04,1200.72 1352.58,1203.39 1355.13,1206.05 1357.67,1208.71 1360.22,1211.37 1362.76,1214.02 1365.3,1216.66 1367.85,1219.3 1370.39,1221.93 1372.94,1224.56 1375.48,1227.18 1378.03,1229.8 1380.57,1232.41 1383.12,1235.02 1385.66,1237.62 1388.21,1240.21 1390.75,1242.8 1393.3,1245.39 1395.84,1247.96 1398.39,1250.54 1400.93,1253.11 1403.48,1255.67 1406.02,1258.23 1408.57,1260.78 1411.11,1263.33 1413.66,1265.87 1416.2,1268.41 1418.75,1270.95 1421.29,1273.47 1423.84,1276 1426.38,1278.51 1428.93,1281.03 1431.47,1283.54 1434.02,1286.04 1436.56,1288.54 1439.11,1291.03 1441.65,1293.52 1444.2,1296 1446.74,1298.48 1449.29,1300.95 1451.83,1303.42 1454.38,1305.89 1456.92,1308.35 1459.47,1310.8 1462.01,1313.25 1464.56,1315.7 1467.1,1318.14 1469.64,1320.57 1472.19,1323 1474.73,1325.43 1477.28,1327.85 1479.82,1330.27 1482.37,1332.68 1484.91,1335.09 1487.46,1337.5 1490,1339.89 1492.55,1342.29 1495.09,1344.68 1497.64,1347.06 1500.18,1349.45 1502.73,1351.82 1505.27,1354.19 1507.82,1356.56 1510.36,1358.93 1512.91,1361.28 1515.45,1363.64 1518,1365.99 1520.54,1368.34 1523.09,1370.68 1525.63,1373.01 1528.18,1375.35 1530.72,1377.68 1533.27,1380 1535.81,1382.32 1538.36,1384.64 1540.9,1386.95 1543.45,1389.26 1545.99,1391.56 1548.54,1393.86 1551.08,1396.15 1553.63,1398.44 1556.17,1400.73 1558.72,1403.01 1561.26,1405.29 1563.81,1407.57 1566.35,1409.84 1568.89,1412.1 1571.44,1414.37 1573.98,1416.62 1576.53,1418.88 1579.07,1421.13 1581.62,1423.38 1584.16,1425.62 1586.71,1427.86 1589.25,1430.09 1591.8,1432.32 1594.34,1434.55 1596.89,1436.77 1599.43,1438.99 1601.98,1441.2 1604.52,1443.42 1607.07,1445.62 1609.61,1447.83 1612.16,1450.03 1614.7,1452.22 1617.25,1454.41" fill="none" stroke="#41049d" stroke-width="7.2" stroke-dasharray="26.77 11.5" stroke-linejoin="round" stroke-linecap="butt"/>
</g>
<rect x="334.7" y="34.7" width="1343.8" height="1487.8" fill="none" stroke="#000" stroke-width="3.5" stroke-linejoin="miter"/>
<path d="M396.47 1522.5V1540M650.76 1522.5V1540M905.05 1522.5V1540M1159.34 1522.5V1540M1413.63 1522.5V1540M1667.92 1522.5V1540M334.7 103H317.4M334.7 834.25H317.4" stroke="#000" stroke-width="3.5" fill="none"/>
<path d="M334.7 614.12H325.8M334.7 485.36H325.8M334.7 393.99H325.8M334.7 323.13H325.8M334.7 265.23H325.8M334.7 216.27H325.8M334.7 173.87H325.8M334.7 136.46H325.8M334.7 1345.37H325.8M334.7 1216.61H325.8M334.7 1125.24H325.8M334.7 1054.38H325.8M334.7 996.48H325.8M334.7 947.52H325.8M334.7 905.12H325.8M334.7 867.71H325.8" stroke="#000" stroke-width="2.6" fill="none"/>
<text x="395.97" y="1610.8" text-anchor="middle" style="font-family:'DejaVu Sans',sans-serif;font-size:71.8px">0.5</text>
<text x="650.26" y="1610.8" text-anchor="middle" style="font-family:'DejaVu Sans',sans-serif;font-size:71.8px">1.0</text>
<text x="904.55" y="1610.8" text-anchor="middle" style="font-family:'DejaVu Sans',sans-serif;font-size:71.8px">1.5</text>
<text x="1158.84" y="1610.8" text-anchor="middle" style="font-family:'DejaVu Sans',sans-serif;font-size:71.8px">2.0</text>
<text x="1413.13" y="1610.8" text-anchor="middle" style="font-family:'DejaVu Sans',sans-serif;font-size:71.8px">2.5</text>
<text x="1667.42" y="1610.8" text-anchor="middle" style="font-family:'DejaVu Sans',sans-serif;font-size:71.8px">3.0</text>
<text style="font-family:'DejaVu Sans',sans-serif;font-size:71.8px"><tspan x="177.8" y="131.1">10</tspan><tspan x="270.4" y="103.8" style="font-size:52.5px">0</tspan></text>
<text style="font-family:'DejaVu Sans',sans-serif;font-size:71.8px"><tspan x="137.2" y="861.5">10</tspan><tspan x="229.5" y="835" style="font-size:52.5px">−</tspan><tspan x="270.6" y="835" style="font-size:52.5px">1</tspan></text>
<text x="0" y="0" transform="translate(941.8 1716.1) scale(1.337 1.0)" style="font-family:'DejaVu Math TeX Gyre','DejaVu Serif',serif;font-size:79.1px" stroke="#000" stroke-width="0.8">ℛ</text>
<text x="1027.6" y="1733.35" style="font-family:'DejaVu Sans',sans-serif;font-size:67px">0</text>
<text transform="rotate(-90)" style="font-family:'DejaVu Sans',sans-serif;font-size:96px"><tspan x="-931.4" y="92.8" style="font-style:italic;font-size:94.5px">π</tspan><tspan x="-874.7" y="110" style="font-style:italic;font-size:67px">N</tspan><tspan x="-825.4" y="110" style="font-style:italic;font-size:67px">O</tspan><tspan x="-768.85" y="95.1">(</tspan><tspan x="-732.2" y="95" style="font-style:italic">I</tspan><tspan x="-703.1" y="110" style="font-size:67px">0</tspan><tspan x="-657.7" y="95.1">)</tspan></text>
<path d="M400.1 1099.2H541.5" stroke="#000" stroke-width="7.2" stroke-dasharray="26.8 11.4" fill="none"/>
<text x="587.05" y="1126.2" style="font-family:'DejaVu Sans',sans-serif;font-size:71.8px;letter-spacing:0.3px">Eq. (19)</text>
<path d="M472.2 1190.26L493.84 1211.9L472.2 1233.54L450.56 1211.9Z" fill="#e16462" stroke="#e16462" stroke-width="4.4" stroke-linejoin="round"/>
<path d="M456.9 1302.7L487.5 1302.7L472.2 1333.3Z" fill="#a11b9b" stroke="#a11b9b" stroke-width="4.4" stroke-linejoin="round"/>
<path d="M456.3 1408.3H486.9V1438.9H456.3Z" fill="#41049d" stroke="#41049d" stroke-width="4.4" stroke-linejoin="round"/>
<text style="font-family:'DejaVu Sans',sans-serif;font-size:71.8px"><tspan x="588.4" y="1231" style="font-style:italic">I</tspan><tspan x="608.5" y="1242.5" style="font-size:52.5px">0</tspan><tspan x="657.5" y="1231">=</tspan><tspan x="731.5" y="1231">1</tspan></text>
<text style="font-family:'DejaVu Sans',sans-serif;font-size:71.8px"><tspan x="588.4" y="1336.8" style="font-style:italic">I</tspan><tspan x="608.5" y="1348.3" style="font-size:52.5px">0</tspan><tspan x="657.5" y="1336.8">=</tspan><tspan x="731.5" y="1336.8">2</tspan></text>
<text style="font-family:'DejaVu Sans',sans-serif;font-size:71.8px"><tspan x="588.4" y="1442.6" style="font-style:italic">I</tspan><tspan x="608.5" y="1454.1" style="font-size:52.5px">0</tspan><tspan x="657.5" y="1442.6">=</tspan><tspan x="731.5" y="1442.6">4</tspan></text></svg>
</body></html>
